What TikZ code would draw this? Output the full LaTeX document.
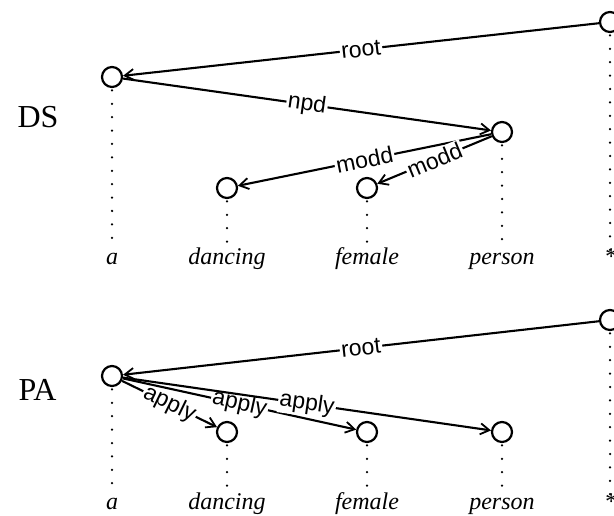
\documentclass[tikz,border=0pt]{standalone}
\usepackage{fontspec}
\setmainfont{Liberation Serif}
\newfontfamily\lblfont{Liberation Sans}
\usetikzlibrary{arrows.meta}
\begin{document}
\begin{tikzpicture}[x=1pt,y=-1pt,
  nd/.style={circle,draw,line width=2.2pt,minimum size=20pt,inner sep=0pt,fill=white},
  edge/.style={line width=2.1pt,-{Straight Barb[length=9pt,width=11pt,line width=1.8pt]}},
  lab/.style={font=\lblfont\fontsize{23}{23}\selectfont,fill=white,inner sep=1.5pt,sloped,midway},
  tok/.style={font=\itshape\fontsize{24}{24}\selectfont,anchor=base},
  sec/.style={font=\fontsize{32}{32}\selectfont,anchor=base west},
  dots/.style={line width=2.5pt,line cap=round,dash pattern=on 0pt off 13.4pt}]
\useasboundingbox (0,0) rectangle (614,516);

% ---------- DS ----------
\node[sec] (ds) at (14,128) {DS};
\coordinate (dA) at (112,77);
\coordinate (dD) at (227,188);
\coordinate (dF) at (367,188);
\coordinate (dP) at (502,132);
\coordinate (dR) at (610,22);
\node[tok] (tA) at (112,265) {a};
\node[tok] (tD) at (227,265) {dancing};
\node[tok] (tF) at (367,265) {female};
\node[tok] (tP) at (502,265) {person};
\node[tok] (tR) at (610,265) {*};
\foreach \c in {dA,dD,dF,dP,dR}
  \draw[dots] (\c) -- (\c |- 0,251);
\node[nd] (a1) at (dA) {};
\node[nd] (d1) at (dD) {};
\node[nd] (f1) at (dF) {};
\node[nd] (p1) at (dP) {};
\node[nd] (r1) at (dR) {};
\draw[edge] (r1) -- node[lab] {root} (a1);
\draw[edge] (a1) -- node[lab] {npd} (p1);
\draw[edge] (p1) -- node[lab] {modd} (d1);
\draw[edge] (p1) -- node[lab] {modd} (f1);

% ---------- PA ----------
\node[sec] (pa) at (15,400) {PA};
\coordinate (pA) at (112,376);
\coordinate (pD) at (227,432);
\coordinate (pF) at (367,432);
\coordinate (pP) at (502,432);
\coordinate (pR) at (610,320);
\node[tok] (uA) at (112,509) {a};
\node[tok] (uD) at (227,509) {dancing};
\node[tok] (uF) at (367,509) {female};
\node[tok] (uP) at (502,509) {person};
\node[tok] (uR) at (610,509) {*};
\foreach \c in {pA,pD,pF,pP,pR}
  \draw[dots] (\c) -- (\c |- 0,495);
\node[nd] (a2) at (pA) {};
\node[nd] (d2) at (pD) {};
\node[nd] (f2) at (pF) {};
\node[nd] (p2) at (pP) {};
\node[nd] (r2) at (pR) {};
\draw[edge] (r2) -- node[lab] {root} (a2);
\draw[edge] (a2) -- node[lab] {apply} (d2);
\draw[edge] (a2) -- node[lab] {apply} (f2);
\draw[edge] (a2) -- node[lab] {apply} (p2);
\end{tikzpicture}
\end{document}
